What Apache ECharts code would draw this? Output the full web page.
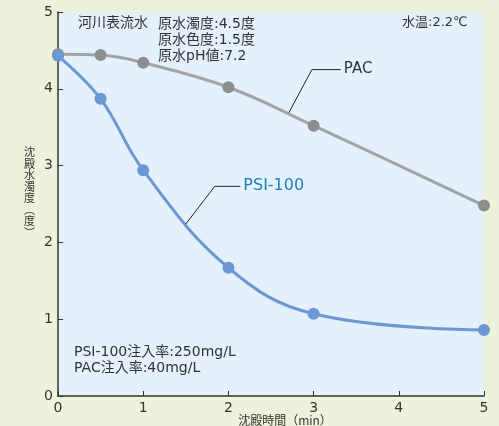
<!DOCTYPE html>
<html><head><meta charset="utf-8">
<script src="https://cdn.jsdelivr.net/npm/echarts@6/dist/echarts.min.js"></script>
<style>html,body{margin:0;padding:0;background:#eff2da;}#c{width:499px;height:426px;}</style>
</head><body><div id="c"></div>
<script>
const timesPAC = [0, 0.5, 1, 2, 3, 5];
const valuesPAC = [4.45, 4.44, 4.34, 4.02, 3.52, 2.48];
const timesPSI = [0, 0.5, 1, 2, 3, 5];
const valuesPSI = [4.43, 3.87, 2.94, 1.67, 1.07, 0.86];
const leaderPAC = [[2.71, 3.69], [2.98, 4.25], [3.32, 4.25]];
const leaderPSI = [[1.50, 2.24], [1.84, 2.73], [2.14, 2.73]];
const FONT = '"DejaVu Sans", "Noto Sans CJK JP", sans-serif';
const CJK = '"Noto Sans CJK JP", sans-serif';

const chart = echarts.init(document.getElementById('c'));
function pairs(xs, ys){ return xs.map((x,i)=>[x, ys[i]]); }
chart.setOption({
  backgroundColor: '#eff2da',
  animation: false,
  textStyle: { fontFamily: FONT },
  grid: { left: 58, right: 15, top: 12, bottom: 30, containLabel: false, outerBoundsMode: 'none',
          show: true, backgroundColor: '#e4f1fc', borderWidth: 0 },
  xAxis: {
    type: 'value', min: 0, max: 5, interval: 1,
    axisLine: { show: true, lineStyle: { color: '#333', width: 1.5 } },
    axisTick: { show: true, inside: true, length: 5, lineStyle: { color: '#333' } },
    axisLabel: { color: '#333', fontSize: 14, margin: 5, fontFamily: FONT },
    splitLine: { show: false },
    name: '沈殿時間（min）', nameLocation: 'middle', nameGap: 18, nameMoveOverlap: false,
    nameTextStyle: { color: '#333', fontSize: 12, lineHeight: 12, padding: [0, 0, 0, 28], fontFamily: CJK }
  },
  yAxis: {
    type: 'value', min: 0, max: 5, interval: 1,
    axisLine: { show: true, lineStyle: { color: '#333', width: 1.5 } },
    axisTick: { show: true, inside: true, length: 5, lineStyle: { color: '#333' } },
    axisLabel: { color: '#333', fontSize: 14, margin: 5, fontFamily: FONT },
    splitLine: { show: false },
    name: '沈\n殿\n水\n濁\n度\n︵\n度\n︶\n \n ', nameLocation: 'middle', nameGap: 23, nameRotate: 0, nameMoveOverlap: false,
    nameTextStyle: { color: '#333', fontSize: 11, lineHeight: 11.5, fontFamily: CJK }
  },
  series: [
    { type: 'line', name: 'PAC', smooth: 0.4, data: pairs(timesPAC, valuesPAC),
      symbol: 'circle', symbolSize: 12,
      lineStyle: { color: '#a3a3a3', width: 3 }, itemStyle: { color: '#8d8d8d' }, z: 2 },
    { type: 'line', name: 'PSI-100', smooth: 0.4, data: pairs(timesPSI, valuesPSI),
      symbol: 'circle', symbolSize: 12,
      lineStyle: { color: '#6b97d2', width: 3 }, itemStyle: { color: '#6b97d2' }, z: 3 },
    { type: 'line', data: leaderPAC, symbol: 'none', silent: true,
      lineStyle: { color: '#222', width: 1 }, z: 4,
      endLabel: { show: true, formatter: 'PAC', color: '#333', fontSize: 15, distance: 3, fontFamily: FONT } },
    { type: 'line', data: leaderPSI, symbol: 'none', silent: true,
      lineStyle: { color: '#222', width: 1 }, z: 4,
      endLabel: { show: true, formatter: 'PSI-100', color: '#1a7fc4', fontSize: 16, distance: 3, fontFamily: FONT } }
  ],
  graphic: [
    { type: 'text', left: 78, top: 16, style: { text: '河川表流水', fill: '#333', font: '14px ' + FONT } },
    { type: 'text', left: 158, top: 16, style: { text: '原水濁度:4.5度\n原水色度:1.5度\n原水pH値:7.2', fill: '#333', font: '14px ' + FONT, lineHeight: 16 } },
    { type: 'text', left: 402, top: 16, style: { text: '水温:2.2℃', fill: '#333', font: '13px ' + FONT } },
    { type: 'text', left: 74, top: 344, style: { text: 'PSI-100注入率:250mg/L\nPAC注入率:40mg/L', fill: '#333', font: '14px ' + FONT, lineHeight: 16 } }
  ]
});
</script></body></html>
